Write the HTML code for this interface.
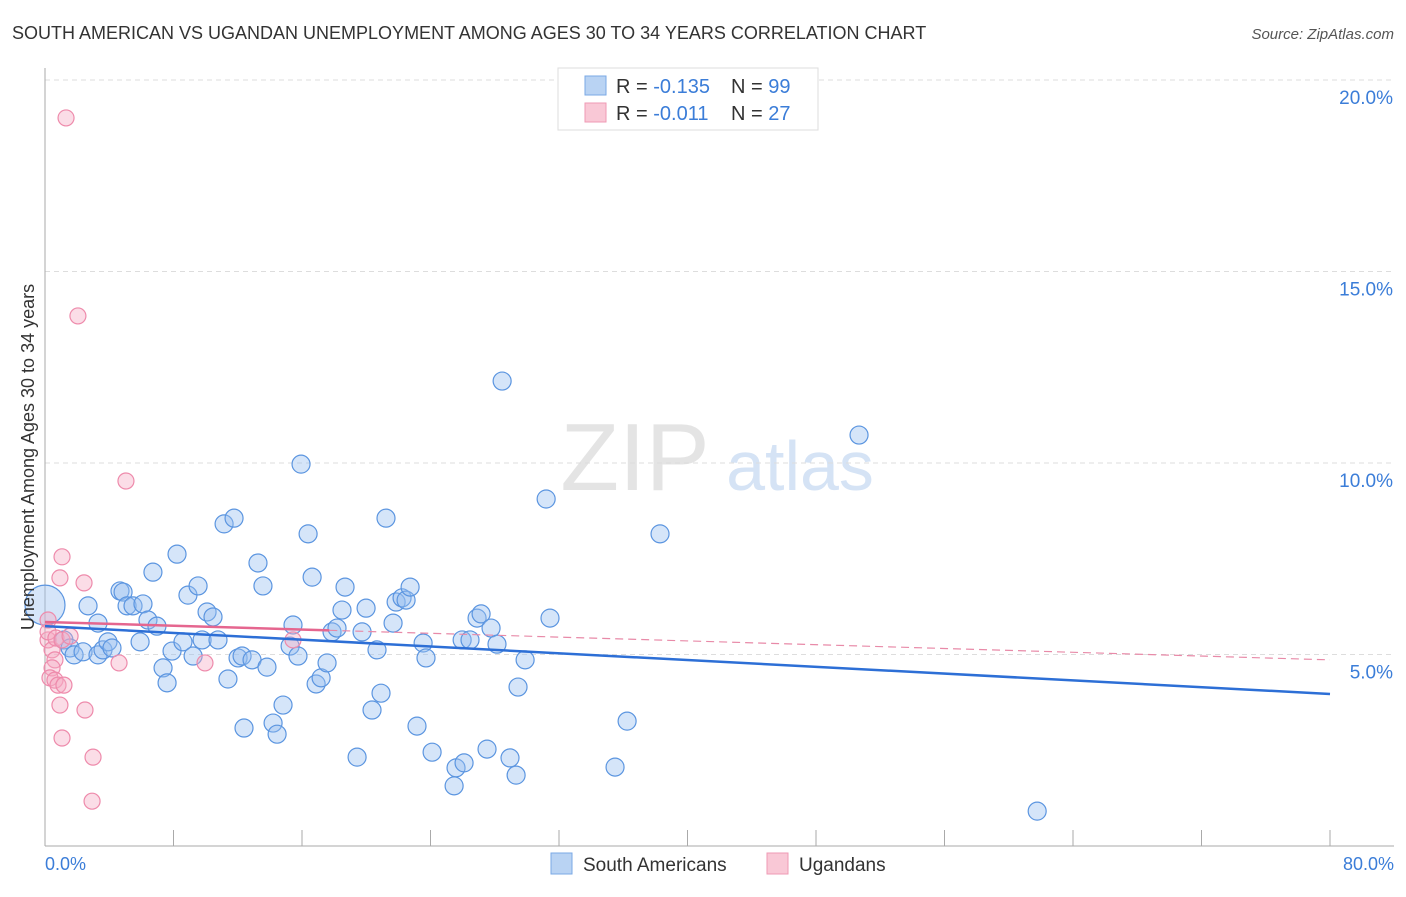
<!DOCTYPE html>
<html><head><meta charset="utf-8"><style>
body{margin:0;background:#fff;font-family:"Liberation Sans",sans-serif}
svg text{font-family:"Liberation Sans",sans-serif}
</style></head><body>
<svg id="c" width="1406" height="892" xmlns="http://www.w3.org/2000/svg">
<text x="12" y="39" font-size="18" fill="#333">SOUTH AMERICAN VS UGANDAN UNEMPLOYMENT AMONG AGES 30 TO 34 YEARS CORRELATION CHART</text>
<text x="1394" y="39" font-size="15" fill="#555" text-anchor="end" font-style="italic">Source: ZipAtlas.com</text>
<text x="635" y="490" font-size="96" fill="#e4e4e4" font-family="Liberation Serif" text-anchor="middle">ZIP</text>
<text x="800" y="490" font-size="70" fill="#d5e3f5" text-anchor="middle">atlas</text>
<g id="grid"></g>
<g id="pts"></g>
<g id="lines"></g>
<text transform="translate(34,457) rotate(-90)" font-size="18" fill="#333" text-anchor="middle">Unemployment Among Ages 30 to 34 years</text>
<text x="45" y="870" font-size="18" fill="#3b7dd8">0.0%</text>
<text x="1394" y="870" font-size="18" fill="#3b7dd8" text-anchor="end">80.0%</text>
<g>
<rect x="558" y="68" width="260" height="62" fill="#fff" stroke="#ddd"/>
<rect x="585" y="76" width="21" height="19" fill="#b9d3f3" stroke="#7aa8e6"/>
<rect x="585" y="103" width="21" height="19" fill="#f9c8d6" stroke="#ef9ab4"/>
<text x="616" y="93" font-size="20" fill="#333">R = <tspan fill="#3b7dd8">-0.135</tspan><tspan x="731">N = </tspan><tspan fill="#3b7dd8">99</tspan></text>
<text x="616" y="120" font-size="20" fill="#333">R = <tspan fill="#3b7dd8">-0.011</tspan><tspan x="731">N = </tspan><tspan fill="#3b7dd8">27</tspan></text>
</g>
<g>
<rect x="551" y="853" width="21" height="21" fill="#b9d3f3" stroke="#7aa8e6"/>
<text x="583" y="871" font-size="19" fill="#333">South Americans</text>
<rect x="767" y="853" width="21" height="21" fill="#f9c8d6" stroke="#ef9ab4"/>
<text x="799" y="871" font-size="19" fill="#333">Ugandans</text>
</g>
</svg>
<script>
const blueX=[0,1.18,1.56,1.81,2.37,3.30,2.68,3.30,3.61,3.92,4.17,4.67,4.86,5.11,5.48,5.92,6.10,6.41,6.97,6.72,7.35,7.60,7.91,8.22,8.59,8.90,9.22,9.53,9.78,10.09,10.46,10.77,11.15,11.39,11.77,12.02,12.27,12.39,12.89,13.26,13.57,13.82,14.20,14.45,14.82,15.26,15.44,15.75,15.94,16.38,16.63,16.88,17.19,17.56,17.87,18.18,18.68,18.49,19.43,19.74,19.99,20.36,20.67,20.92,21.23,21.67,21.86,22.23,22.48,22.73,23.16,23.54,23.72,24.10,25.47,25.59,26.09,25.97,26.46,26.90,27.15,27.52,27.77,28.14,28.46,28.95,29.33,29.45,29.89,31.20,31.44,35.49,36.24,38.29,50.68,61.77];
const blueY=[6.29,5.38,5.17,4.99,5.07,4.99,6.27,5.82,5.12,5.33,5.17,6.66,6.63,6.27,6.27,5.33,6.32,5.90,5.74,7.15,4.65,4.26,5.09,7.62,5.33,6.55,4.96,6.79,5.38,6.11,5.98,5.38,8.41,4.36,8.56,4.91,4.96,3.08,4.86,7.39,6.79,4.67,3.21,2.92,3.68,5.22,5.77,4.96,9.97,8.15,7.02,4.23,4.39,4.78,5.59,5.69,6.76,6.16,2.32,5.59,6.21,3.55,5.12,3.99,8.56,5.82,6.37,6.48,6.42,6.76,3.13,5.30,4.91,2.45,1.57,2.04,2.17,5.38,5.38,5.95,6.06,2.53,5.69,5.27,12.14,2.30,1.85,4.15,4.86,9.06,5.95,2.06,3.26,8.15,10.73,0.91];
const pinkX=[1.31,2.05,5.04,1.06,0.93,2.43,0.19,0.19,0.44,0.62,0.44,0.31,0.62,0.81,1.18,0.93,2.49,1.06,2.99,2.93,4.61,9.96,15.44,0.19,0.68,1.06,1.56];
const pinkY=[19.01,13.84,9.53,7.55,7.00,6.87,5.90,5.38,5.12,4.86,4.65,4.39,4.33,4.20,4.20,3.68,3.55,2.82,2.32,1.17,4.78,4.78,5.38,5.59,5.43,5.38,5.48];
const yTicks=[5,10,15,20];
const xTicks=[0,8,16,24,32,40,48,56,64,72,80];
const blueTrend=[5.74,3.97];
const pinkTrend=[5.85,4.86];
const NS="http://www.w3.org/2000/svg";
const sx=v=>45+v/80*1285;
const sy=v=>846-v*38.3;
function mk(tag,attrs,parent){const e=document.createElementNS(NS,tag);for(const k in attrs)e.setAttribute(k,attrs[k]);document.getElementById(parent).appendChild(e);return e;}
yTicks.forEach(t=>{
 const l=mk('line',{x1:45,x2:1394,y1:sy(t),y2:sy(t),stroke:'#ddd','stroke-dasharray':'5,4'},'grid');
 
 
 const tx=mk('text',{x:1393,y:sy(t)+24,'font-size':19,fill:'#3b7dd8','text-anchor':'end'},'grid');
 tx.textContent=t.toFixed(1)+'%';
 
 
});
const ax=mk('line',{x1:45,x2:45,y1:68,y2:846,stroke:'#aaa'},'grid');


const bx=mk('line',{x1:45,x2:1394,y1:846,y2:846,stroke:'#aaa'},'grid');


xTicks.forEach(t=>{
 const l=mk('line',{x1:sx(t),x2:sx(t),y1:830,y2:846,stroke:'#aaa'},'grid');
 
 
});
blueX.forEach((x,i)=>{
 const c=mk('circle',{cx:sx(x),cy:sy(blueY[i]),r:i===0?20:9,fill:'rgba(150,190,240,0.4)',stroke:'#5b95e0','stroke-width':1.2},'pts');
 
 
});
pinkX.forEach((x,i)=>{
 const c=mk('circle',{cx:sx(x),cy:sy(pinkY[i]),r:8,fill:'rgba(245,170,195,0.4)',stroke:'#ee8aab','stroke-width':1.2},'pts');
 
 
});
const pinkAt=x=>pinkTrend[0]+(pinkTrend[1]-pinkTrend[0])*x/80;
const pd=mk('line',{x1:sx(17.7),y1:sy(pinkAt(17.7)),x2:sx(80),y2:sy(pinkTrend[1]),stroke:'#e88aa8','stroke-width':1.2,'stroke-dasharray':'8,5'},'lines');


const bl=mk('line',{x1:sx(0),y1:sy(blueTrend[0]),x2:sx(80),y2:sy(blueTrend[1]),stroke:'#2d6fd6','stroke-width':2.5},'lines');


const pl=mk('line',{x1:sx(0),y1:sy(pinkTrend[0]),x2:sx(17.7),y2:sy(pinkAt(17.7)),stroke:'#e5668f','stroke-width':2.5},'lines');


</script>
</body></html>
